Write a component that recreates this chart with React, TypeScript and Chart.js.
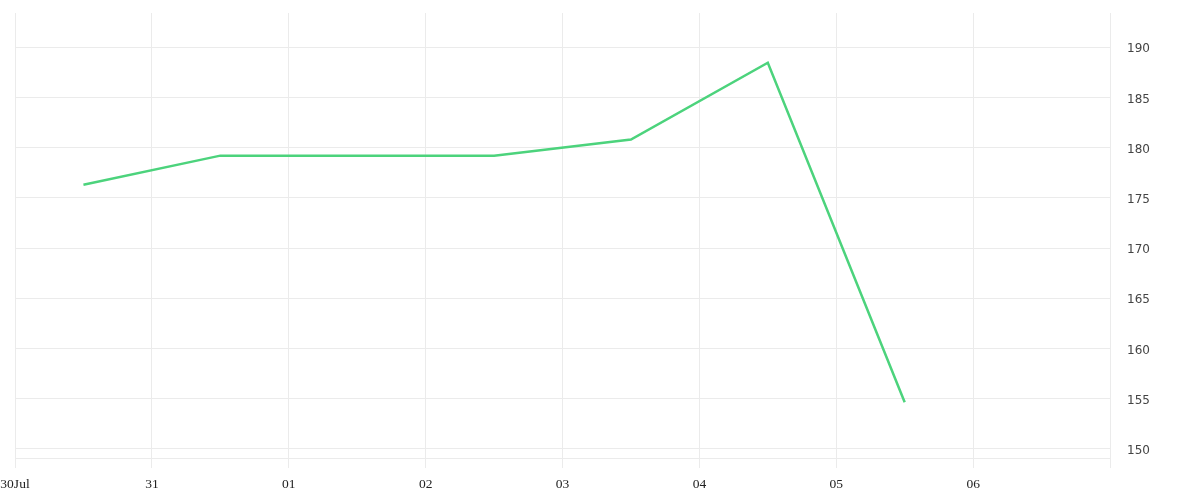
import React, { useEffect, useRef } from 'react';
import { Chart, registerables } from 'chart.js';

Chart.register(...registerables);

// day labels for the x axis (one tick per day boundary, last one blank)
const dayLabels = ['30Jul', '31', '01', '02', '03', '04', '05', '06', ''];
// one value per day, drawn at the middle of each day
const values = [176.3, 179.2, 179.2, 179.2, 180.8, 188.45, 154.65];

const yMin = 149.1;
const yMax = 193.4;

const App: React.FC = () => {
  const chartRef = useRef<HTMLCanvasElement>(null);
  const chartInstance = useRef<Chart | null>(null);

  useEffect(() => {
    document.body.style.margin = '0';
    if (!chartRef.current) return;
    if (chartInstance.current) {
      chartInstance.current.destroy();
    }
    const ctx = chartRef.current.getContext('2d');
    if (!ctx) return;

    chartInstance.current = new Chart(ctx, {
      type: 'line',
      data: {
        datasets: [{
          data: values.map((v, i) => ({ x: i + 0.5, y: v })),
          borderColor: '#4cd37c',
          borderWidth: 2.5,
          pointRadius: 0,
          tension: 0,
          fill: false,
        }],
      },
      options: {
        responsive: true,
        maintainAspectRatio: false,
        animation: false,
        layout: {
          padding: { top: 13, left: 15 },
        },
        plugins: {
          legend: { display: false },
          tooltip: { enabled: false },
        },
        scales: {
          x: {
            type: 'linear',
            min: 0,
            max: dayLabels.length - 1,
            grid: {
              color: '#ebebeb',
              tickLength: 10,
            },
            border: { color: '#ebebeb' },
            ticks: {
              stepSize: 1,
              autoSkip: false,
              maxRotation: 0,
              padding: 8,
              color: '#222',
              font: { family: 'Liberation Serif', size: 13.5 },
              callback: (value) => dayLabels[Number(value)] ?? '',
            },
            afterFit: (scale) => {
              scale.height = 42;
              scale.paddingLeft = 0;
              scale.paddingRight = 0;
            },
          },
          y: {
            position: 'right',
            min: yMin,
            max: yMax,
            grid: {
              color: '#ebebeb',
              drawTicks: false,
            },
            border: { color: '#ebebeb' },
            ticks: {
              stepSize: 5,
              includeBounds: false,
              padding: 17,
              labelOffset: 2,
              color: '#444',
              font: { family: 'DejaVu Sans', size: 12 },
            },
            afterFit: (scale) => {
              scale.width = 90;
              scale.paddingTop = 0;
              scale.paddingBottom = 0;
            },
          },
        },
      },
    });

    return () => {
      if (chartInstance.current) {
        chartInstance.current.destroy();
        chartInstance.current = null;
      }
    };
  }, []);

  return (
    <div style={{ width: 1200, height: 500, position: 'relative' }}>
      <canvas ref={chartRef} />
    </div>
  );
};

export default App;
